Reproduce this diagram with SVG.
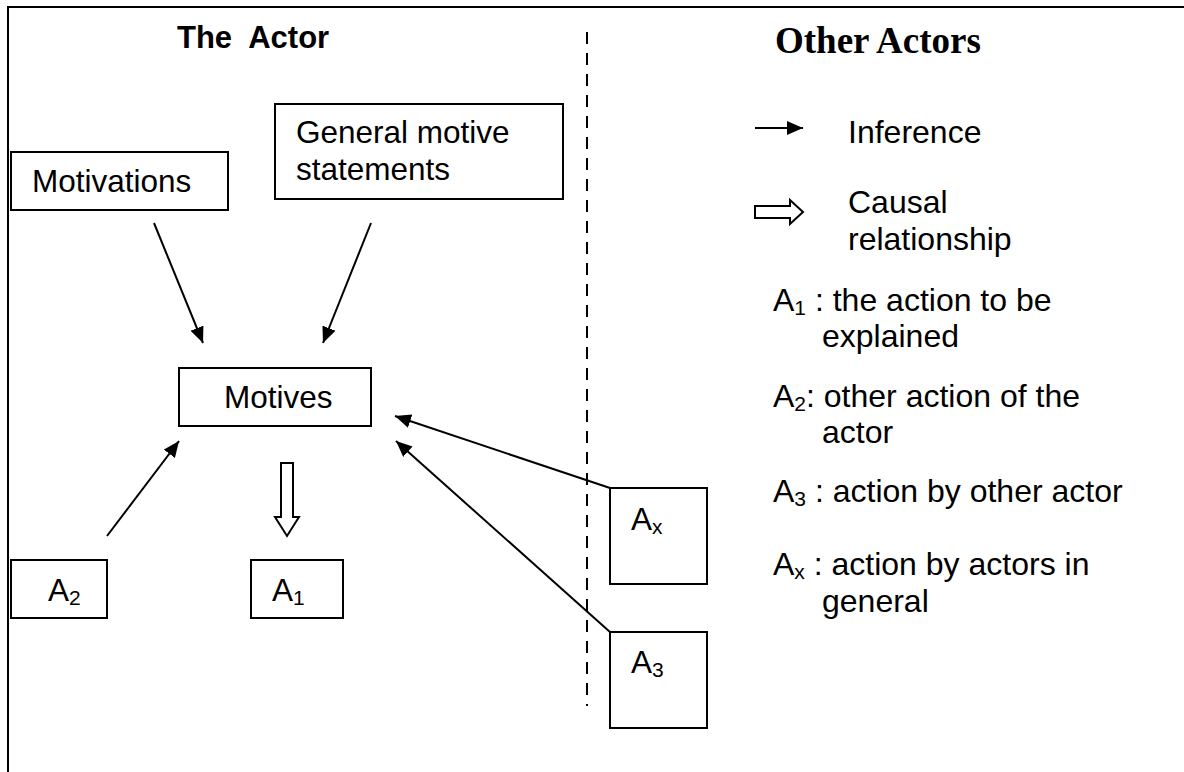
<svg xmlns="http://www.w3.org/2000/svg" width="1184" height="772" viewBox="0 0 1184 772">
<style>
  .bg{fill:#ffffff}
  .box{fill:#ffffff;stroke:#000000;stroke-width:2}
  .t{font-family:"Liberation Sans",Arial,sans-serif;font-size:31.5px;fill:#000000}
  .l{font-size:32px}
  .tb{font-family:"Liberation Sans",Arial,sans-serif;font-size:31px;font-weight:bold;fill:#000000}
  .tt{font-family:"Liberation Serif","Times New Roman",serif;font-size:37px;font-weight:bold;fill:#000000}
  .sub{font-size:21px}
  .edge{stroke:#000000;stroke-width:2;fill:none}
  .block{fill:#ffffff;stroke:#000000;stroke-width:2;stroke-linejoin:miter}
  .dash{stroke:#000000;stroke-width:2;stroke-dasharray:12 9;fill:none}
</style>
<defs>
  <marker id="ah" markerUnits="userSpaceOnUse" markerWidth="18" markerHeight="14" refX="16" refY="7" orient="auto">
    <path d="M0,0 L16,7 L0,14 Z" fill="#000000"/>
  </marker>
</defs>
<rect class="bg" x="0" y="0" width="1184" height="772"/>
<path d="M8,772 V7 H1184" fill="none" stroke="#000000" stroke-width="2"/>
<line class="dash" x1="587" y1="32" x2="587" y2="706"/>

<text class="tb" x="177" y="48" xml:space="preserve">The  Actor</text>
<text class="tt" x="775" y="53">Other Actors</text>

<g id="legend">
  <line class="edge" x1="755" y1="128" x2="803" y2="128" marker-end="url(#ah)"/>
  <text class="t l" x="848" y="143">Inference</text>
  <polygon class="block" points="755,206 790,206 790,200 803,212 790,224 790,218 755,218"/>
  <text class="t l" x="848" y="213">Causal</text>
  <text class="t l" x="848" y="250">relationship</text>
  <text class="t l" x="773" y="311">A<tspan class="sub" dy="4">1</tspan><tspan dy="-4"> : the action to be</tspan></text>
  <text class="t l" x="822" y="347">explained</text>
  <text class="t l" x="773" y="407">A<tspan class="sub" dy="4">2</tspan><tspan dy="-4">: other action of the</tspan></text>
  <text class="t l" x="822" y="443">actor</text>
  <text class="t l" x="773" y="502">A<tspan class="sub" dy="4">3</tspan><tspan dy="-4"> : action by other actor</tspan></text>
  <text class="t l" x="773" y="575">A<tspan class="sub" dy="4">x</tspan><tspan dy="-4"> : action by actors in</tspan></text>
  <text class="t l" x="822" y="612">general</text>
</g>

<g id="motivations">
  <rect class="box" x="11" y="152" width="217" height="58"/>
  <text class="t" x="32" y="192">Motivations</text>
</g>
<g id="general">
  <rect class="box" x="275" y="104" width="288" height="95"/>
  <text class="t" x="296" y="143">General motive</text>
  <text class="t" x="296" y="180">statements</text>
</g>
<g id="motives">
  <rect class="box" x="179" y="368" width="192" height="58"/>
  <text class="t" x="224" y="408">Motives</text>
</g>
<g id="a2">
  <rect class="box" x="11" y="560" width="96" height="58"/>
  <text class="t" x="48" y="601">A<tspan class="sub" dy="4">2</tspan></text>
</g>
<g id="a1">
  <rect class="box" x="251" y="560" width="92" height="58"/>
  <text class="t" x="272" y="601">A<tspan class="sub" dy="4">1</tspan></text>
</g>
<g id="ax">
  <rect class="box" x="610" y="488" width="97" height="96"/>
  <text class="t" x="631" y="530">A<tspan class="sub" dy="4">x</tspan></text>
</g>
<g id="a3">
  <rect class="box" x="610" y="632" width="97" height="96"/>
  <text class="t" x="631" y="673">A<tspan class="sub" dy="4">3</tspan></text>
</g>

<g id="connectors">
  <line class="edge" x1="154" y1="223" x2="203" y2="343" marker-end="url(#ah)"/>
  <line class="edge" x1="371" y1="223" x2="323" y2="343" marker-end="url(#ah)"/>
  <line class="edge" x1="107" y1="536" x2="179" y2="441" marker-end="url(#ah)"/>
  <line class="edge" x1="610" y1="488" x2="395" y2="416" marker-end="url(#ah)"/>
  <line class="edge" x1="610" y1="632" x2="396" y2="441" marker-end="url(#ah)"/>
  <polygon class="block" points="281,463 293,463 293,517 299,517 287,536 275,517 281,517"/>
</g>
</svg>
